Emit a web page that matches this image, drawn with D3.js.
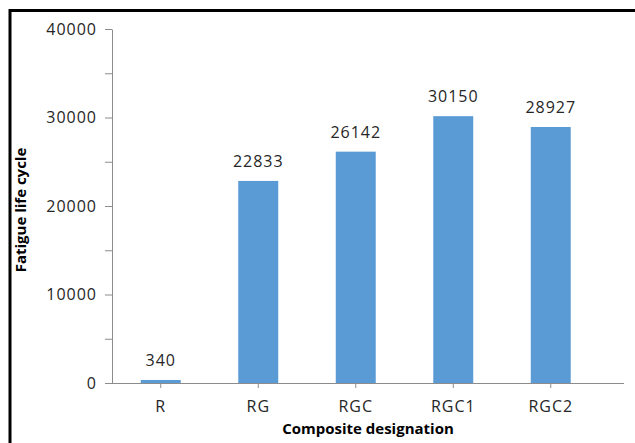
<!DOCTYPE html>
<html>
<head>
<meta charset="utf-8">
<script src="https://cdn.jsdelivr.net/npm/d3@7"></script>
<style>
  html, body { margin: 0; padding: 0; background: #ffffff; }
  svg { display: block; }
  .tick text { font-family: "Open Sans", sans-serif; font-size: 16px; fill: #262626; letter-spacing: 1px; }
  .value-label { font-family: "Open Sans", sans-serif; font-size: 16px; fill: #262626; letter-spacing: 1px; }
  .axis-title { font-family: "Open Sans", sans-serif; font-size: 15px; font-weight: bold; fill: #000000; }
</style>
</head>
<body>
<script>
// Fatigue life per composite designation
const categories = ["R", "RG", "RGC", "RGC1", "RGC2"];
const fatigueLife = [340, 22833, 26142, 30150, 28927];
const majorTicks = [0, 10000, 20000, 30000, 40000];
const minorTicks = [5000, 15000, 25000, 35000];

const W = 635, H = 443;
const plot = { left: 112, right: 599.5, axisEnd: 624, top: 29, bottom: 383 };

const svg = d3.select("body").append("svg")
  .attr("width", W).attr("height", H);

// outer frame (top and left edges visible)
svg.append("line").attr("x1", 10).attr("x2", W).attr("y1", 10.5).attr("y2", 10.5)
  .attr("stroke", "#000").attr("stroke-width", 3);
svg.append("line").attr("x1", 10).attr("x2", 10).attr("y1", 9).attr("y2", H)
  .attr("stroke", "#000").attr("stroke-width", 3);

const x = d3.scaleBand()
  .domain(categories)
  .range([plot.left, plot.right])
  .paddingInner(0.59)
  .paddingOuter(0.295);

const y = d3.scaleLinear()
  .domain([0, 40000])
  .range([plot.bottom, plot.top]);

const axisColor = "#8c8c8c";

// minor ticks on the value axis
const yMinor = svg.append("g")
  .attr("transform", `translate(${plot.left},0)`)
  .call(d3.axisLeft(y).tickValues(minorTicks).tickSize(7).tickFormat(""));
yMinor.select(".domain").remove();
yMinor.selectAll("line").attr("stroke", axisColor);

// major ticks with labels
const yAxis = svg.append("g")
  .attr("transform", `translate(${plot.left},0)`)
  .call(d3.axisLeft(y).tickValues(majorTicks).tickSize(7).tickSizeOuter(0).tickPadding(8).tickFormat(d3.format("d")));
yAxis.select(".domain").attr("stroke", axisColor);
yAxis.selectAll(".tick line").attr("stroke", axisColor);

// bars
svg.append("g").selectAll("rect")
  .data(categories)
  .join("rect")
  .attr("x", d => x(d))
  .attr("width", x.bandwidth())
  .attr("y", (d, i) => y(fatigueLife[i]))
  .attr("height", (d, i) => y(0) - y(fatigueLife[i]))
  .attr("fill", "#5b9bd5");

// category axis
const xAxis = svg.append("g")
  .attr("transform", `translate(0,${plot.bottom})`)
  .call(d3.axisBottom(x).tickSize(5).tickSizeOuter(0).tickPadding(13));
xAxis.select(".domain").remove();
xAxis.selectAll(".tick line").attr("stroke", axisColor);
svg.append("line")
  .attr("x1", plot.left).attr("x2", plot.axisEnd)
  .attr("y1", plot.bottom + 0.5).attr("y2", plot.bottom + 0.5)
  .attr("stroke", axisColor);

// value labels above bars
svg.append("g").selectAll("text")
  .data(categories)
  .join("text")
  .attr("class", "value-label")
  .attr("text-anchor", "middle")
  .attr("x", d => x(d) + x.bandwidth() / 2)
  .attr("y", (d, i) => y(fatigueLife[i]) - 14)
  .text((d, i) => fatigueLife[i]);

// axis titles
svg.append("text")
  .attr("class", "axis-title")
  .attr("text-anchor", "middle")
  .attr("x", (plot.left + plot.axisEnd) / 2)
  .attr("y", 434)
  .text("Composite designation");

svg.append("text")
  .attr("class", "axis-title")
  .attr("text-anchor", "middle")
  .attr("transform", "translate(26,210) rotate(-90)")
  .text("Fatigue life cycle");
</script>
</body>
</html>
